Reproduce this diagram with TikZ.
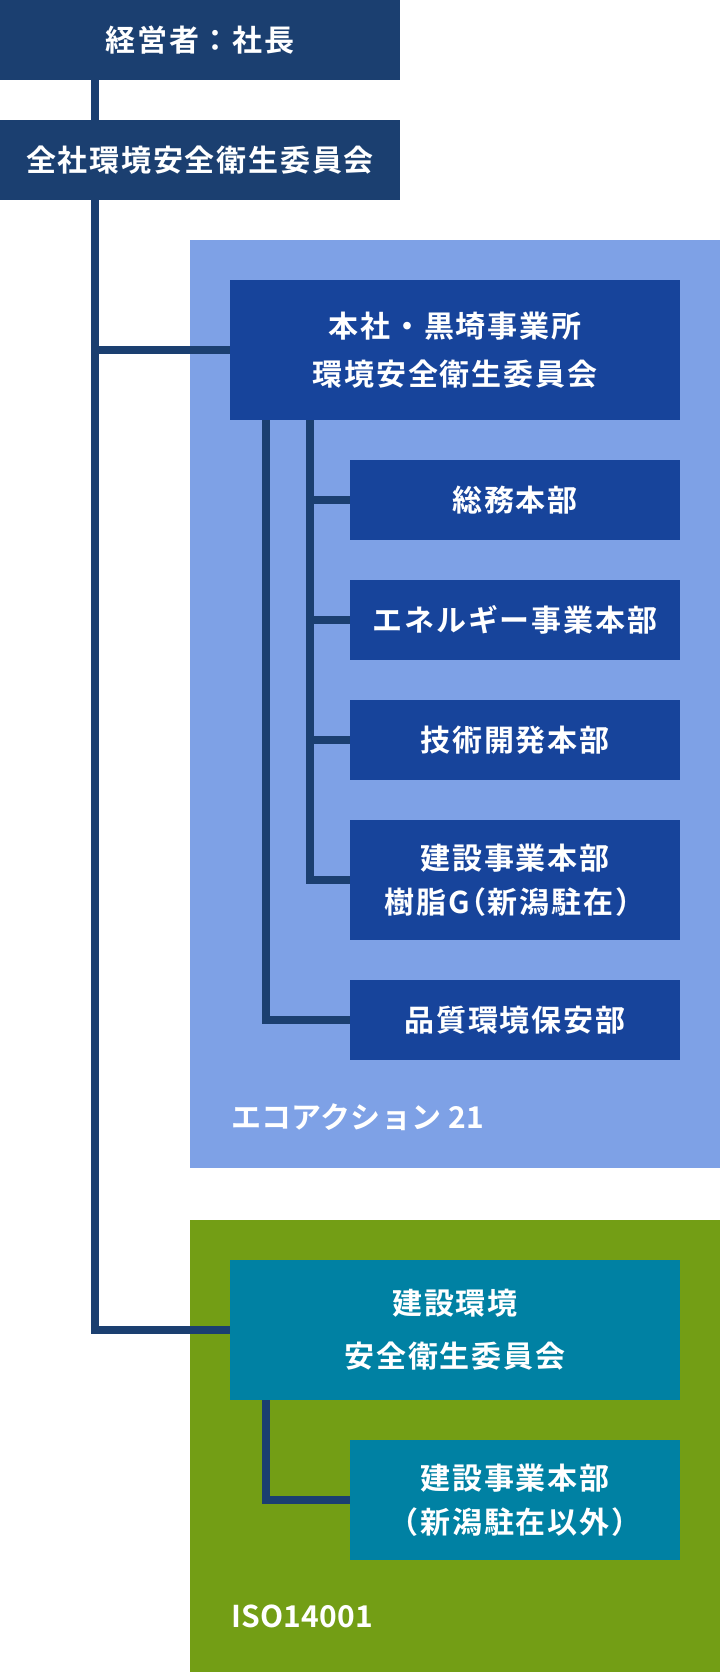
\documentclass[tikz,border=0pt]{standalone}
\usepackage{fontspec}
\setmainfont{Noto Sans CJK JP}[BoldFont={Noto Sans CJK JP Bold}, LetterSpace=6]
\newfontfamily\tagfont{Noto Sans CJK JP}[BoldFont={Noto Sans CJK JP Bold}, LetterSpace=1]
\usepackage{tikz}
\usetikzlibrary{backgrounds}
\definecolor{navy}{HTML}{1B3F70}
\definecolor{paleblue}{HTML}{7EA1E6}
\definecolor{royal}{HTML}{17449B}
\definecolor{leaf}{HTML}{739E15}
\definecolor{teal}{HTML}{0081A3}
\tikzset{
  box/.style={
    rectangle,
    text=white,
    align=center,
    inner sep=0pt,
    font=\bfseries\fontsize{30}{44}\selectfont,
  },
  head/.style={box, fill=navy, minimum width=400pt, minimum height=80pt},
  committee/.style={box, minimum width=450pt, minimum height=140pt},
  dept/.style={box, minimum width=330pt, minimum height=80pt},
  link/.style={draw=navy, line width=8pt},
  tag/.style={anchor=west, text=white, inner sep=0pt,
    font=\tagfont\bfseries\fontsize{30}{34}\selectfont},
}

\begin{document}
\begin{tikzpicture}[x=1pt, y=-1pt]
  \useasboundingbox (0, 0) rectangle (720, 1672);

  \node[head] (ceo) at (200, 40) {経営者：社長};
  \node[head] (allcom) at (200, 160) {全社環境安全衛生委員会};

  % eco action 21
  \node[committee, fill=royal] (hq) at (455, 350)
    {本社・黒埼事業所\\[4pt]環境安全衛生委員会};
  \node[dept, fill=royal] (soumu) at (515, 500) {総務本部};
  \node[dept, fill=royal] (energy) at (515, 620) {エネルギー事業本部};
  \node[dept, fill=royal] (tech) at (515, 740) {技術開発本部};
  \node[dept, fill=royal, minimum height=120pt] (resin) at (515, 880)
    {建設事業本部\\樹脂G\hspace{-14pt}（新潟駐在）\hspace{-12pt}};
  \node[dept, fill=royal] (qa) at (515, 1020) {品質環境保安部};
  \node[tag] (eco) at (231, 1117) {エコアクション 21};

  % iso 14001
  \node[committee, fill=teal] (env) at (455, 1330)
    {建設環境\\[9pt]安全衛生委員会};
  \node[dept, fill=teal, minimum height=120pt] (envsub) at (515, 1500)
    {建設事業本部\\（新潟駐在以外）};
  \node[tag] (iso) at (231, 1616) {ISO14001};

  \coordinate (trunk) at (95, 80);
  \coordinate (outer) at ([xshift=36pt]hq.south west);
  \coordinate (inner) at ([xshift=80pt]hq.south west);
  \coordinate (envstem) at ([xshift=36pt]env.south west);

  \begin{scope}[on background layer]
    \fill[paleblue] (190, 240) rectangle (720, 1168);
    \fill[leaf] (190, 1220) rectangle (720, 1672);

    \draw[link] (trunk) |- (env.west);
    \draw[link] (trunk) |- (hq.west);
    \draw[link] (outer) |- (qa.west);
    \draw[link] (inner) |- (resin.west);
    \foreach \dept in {soumu, energy, tech}
      \draw[link] (inner |- \dept.west) -- (\dept.west);
    \draw[link] (envstem) |- (envsub.west);
  \end{scope}
\end{tikzpicture}
\end{document}
